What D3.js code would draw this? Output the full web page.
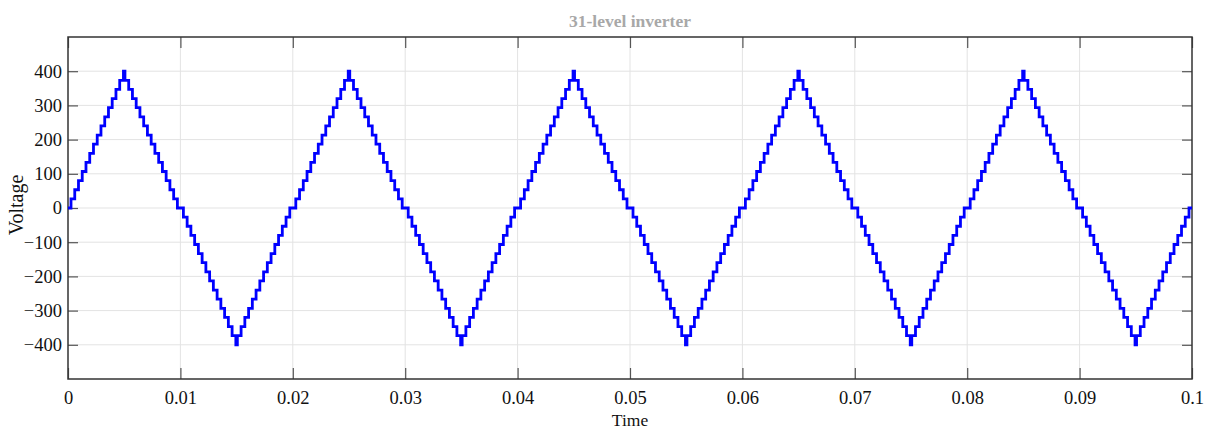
<!DOCTYPE html>
<html>
<head>
<meta charset="utf-8">
<script src="https://cdn.jsdelivr.net/npm/d3@7"></script>
<style>
  body { margin: 0; background: #fff; }
  svg text { font-family: "Liberation Serif", "Times New Roman", serif; }
</style>
</head>
<body>
<div id="chart"></div>
<script>
// Tick values
var xTicks = [0, 0.01, 0.02, 0.03, 0.04, 0.05, 0.06, 0.07, 0.08, 0.09, 0.1];
var xTickLabels = ["0", "0.01", "0.02", "0.03", "0.04", "0.05", "0.06", "0.07", "0.08", "0.09", "0.1"];
var yTicks = [-400, -300, -200, -100, 0, 100, 200, 300, 400];

// One rising quarter of the staircase (31 levels => 15 steps up to 400 V)
var stepStarts = [0.000267, 0.0006, 0.000933, 0.001267, 0.0016, 0.001933, 0.002267, 0.0026,
                  0.002933, 0.003267, 0.0036, 0.003933, 0.004267, 0.0046, 0.004933];
var stepLevels = [26.7, 53.3, 80, 106.7, 133.3, 160, 186.7, 213.3,
                  240, 266.7, 293.3, 320, 346.7, 373.3, 400];
var period = 0.02;
var periodCount = 5;

// Chart dimensions
var width = 1206, height = 430;
var margin = {top: 37, right: 14, bottom: 51, left: 68};
var innerW = width - margin.left - margin.right,
    innerH = height - margin.top - margin.bottom;

// Build the staircase points from the quarter tables
var wave = [];
for (var p = 0; p < periodCount; p++) {
    var t0 = p * period;
    wave.push([t0, 0]);
    stepStarts.forEach(function(s, i) { wave.push([t0 + s, stepLevels[i]]); });
    for (var i = stepStarts.length - 1; i >= 0; i--) {
        wave.push([t0 + period / 2 - stepStarts[i], i > 0 ? stepLevels[i - 1] : 0]);
    }
    stepStarts.forEach(function(s, i) { wave.push([t0 + period / 2 + s, -stepLevels[i]]); });
    for (var j = stepStarts.length - 1; j >= 0; j--) {
        wave.push([t0 + period - stepStarts[j], j > 0 ? -stepLevels[j - 1] : 0]);
    }
}
wave.push([period * periodCount, 0]);

var xScale = d3.scaleLinear().domain([0, 0.1]).range([0, innerW]);
var yScale = d3.scaleLinear().domain([-500, 500]).range([innerH, 0]);

var svg = d3.select("#chart").append("svg")
    .attr("width", width)
    .attr("height", height);

var g = svg.append("g")
    .attr("transform", "translate(" + margin.left + "," + margin.top + ")");

// Grid
g.append("g").selectAll("line.vg")
    .data(xTicks.slice(1, -1))
    .enter().append("line")
    .attr("x1", function(d) { return xScale(d); })
    .attr("x2", function(d) { return xScale(d); })
    .attr("y1", 0).attr("y2", innerH)
    .style("stroke", "#e3e3e3").style("stroke-width", 1);

g.append("g").selectAll("line.hg")
    .data(yTicks)
    .enter().append("line")
    .attr("x1", 0).attr("x2", innerW)
    .attr("y1", function(d) { return yScale(d); })
    .attr("y2", function(d) { return yScale(d); })
    .style("stroke", "#e3e3e3").style("stroke-width", 1);

// Axes with inward ticks
var xAxisBottom = d3.axisBottom(xScale).tickValues(xTicks)
    .tickFormat(function(d, i) { return xTickLabels[i]; })
    .tickSizeInner(-11).tickSizeOuter(0).tickPadding(12);
var xAxisTop = d3.axisTop(xScale).tickValues(xTicks).tickFormat("")
    .tickSizeInner(-11).tickSizeOuter(0);
var yAxisLeft = d3.axisLeft(yScale).tickValues(yTicks)
    .tickSizeInner(-10).tickSizeOuter(0).tickPadding(6);
var yAxisRight = d3.axisRight(yScale).tickValues(yTicks).tickFormat("")
    .tickSizeInner(-10).tickSizeOuter(0);

function styleAxis(sel) {
    sel.select(".domain").remove();
    sel.selectAll(".tick line").style("stroke", "#555").style("stroke-width", 1.2);
    sel.selectAll(".tick text").style("font-size", "18.5px").style("fill", "#111")
        .style("font-family", "'Liberation Serif', serif");
}

g.append("g").attr("transform", "translate(0," + innerH + ")").call(xAxisBottom).call(styleAxis);
g.append("g").call(xAxisTop).call(styleAxis);
g.append("g").call(yAxisLeft).call(styleAxis);
g.append("g").attr("transform", "translate(" + innerW + ",0)").call(yAxisRight).call(styleAxis);

// Frame
g.append("rect")
    .attr("width", innerW).attr("height", innerH)
    .style("fill", "none").style("stroke", "#333").style("stroke-width", 1.5);

// Waveform
var line = d3.line()
    .x(function(d) { return xScale(d[0]); })
    .y(function(d) { return yScale(d[1]); })
    .curve(d3.curveStepAfter);

g.append("path")
    .datum(wave)
    .attr("d", line)
    .style("fill", "none")
    .style("stroke", "#0000ff")
    .style("stroke-width", 2.8)
    .style("stroke-linejoin", "miter");

// Title and labels
svg.append("text")
    .attr("x", margin.left + innerW / 2)
    .attr("y", 27)
    .attr("text-anchor", "middle")
    .style("font-size", "17.5px")
    .style("font-weight", "bold")
    .style("fill", "#a8a8a8")
    .text("31-level inverter");

svg.append("text")
    .attr("x", margin.left + innerW / 2)
    .attr("y", 426)
    .attr("text-anchor", "middle")
    .style("font-size", "17.5px")
    .style("fill", "#111")
    .text("Time");

svg.append("text")
    .attr("transform", "translate(23," + 205 + ") rotate(-90)")
    .attr("text-anchor", "middle")
    .style("font-size", "20px")
    .style("fill", "#111")
    .text("Voltage");
</script>
</body>
</html>
